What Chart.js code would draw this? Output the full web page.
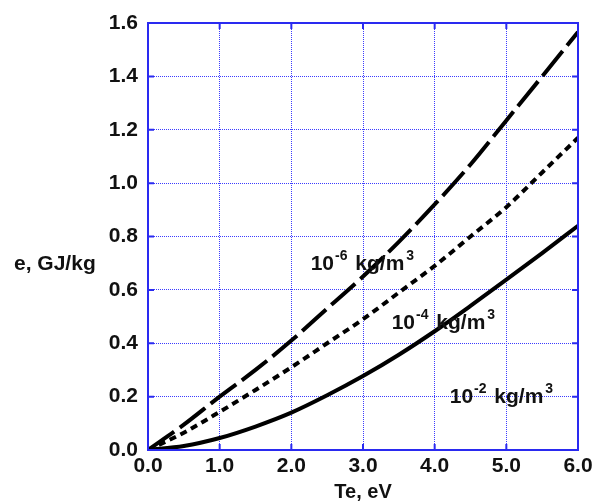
<!DOCTYPE html>
<html>
<head>
<meta charset="utf-8">
<script src="https://cdn.jsdelivr.net/npm/chart.js@4"></script>
<style>
  html, body { margin: 0; padding: 0; background: #fff; }
  #wrap { width: 606px; height: 504px; }
</style>
</head>
<body>
<div id="wrap"><canvas id="chart"></canvas></div>
<script>
// values
var te = [0, 0.5, 1.0, 1.5, 2.0, 2.5, 3.0, 3.5, 4.0, 4.5, 5.0, 5.5, 6.0];
var rho6 = [0, 0.095, 0.20, 0.30, 0.41, 0.53, 0.65, 0.78, 0.92, 1.07, 1.235, 1.40, 1.566];
var rho4 = [0, 0.065, 0.143, 0.225, 0.31, 0.40, 0.49, 0.59, 0.69, 0.80, 0.91, 1.04, 1.17];
var rho2 = [0, 0.015, 0.045, 0.088, 0.14, 0.205, 0.277, 0.357, 0.445, 0.54, 0.638, 0.738, 0.84];
var xTicks = [0, 1, 2, 3, 4, 5, 6];
var yTicks = [0, 0.2, 0.4, 0.6, 0.8, 1.0, 1.2, 1.4, 1.6];

// curve labels: [base, exponent, x, y]
var curveLabels = [
  ['10', '-6', 2.27, 0.674],
  ['10', '-4', 3.40, 0.453],
  ['10', '-2', 4.21, 0.176]
];

var blue = '#2a2af0';
var gridBlue = '#3c3cff';
var FONT = '"Liberation Sans", Arial, sans-serif';

function pts(ys) {
  return te.map(function (x, i) { return { x: x, y: ys[i] }; });
}

// frame with inward ticks, y title, curve labels
var decor = {
  id: 'decor',
  afterDatasetsDraw: function (chart) {
    var ctx = chart.ctx;
    var a = chart.chartArea;
    var xs = chart.scales.x, ys = chart.scales.y;
    ctx.save();
    ctx.strokeStyle = blue;
    ctx.lineWidth = 2;
    ctx.strokeRect(a.left, a.top, a.right - a.left, a.bottom - a.top);
    ctx.beginPath();
    yTicks.forEach(function (v) {
      var p = ys.getPixelForValue(v);
      ctx.moveTo(a.left, p); ctx.lineTo(a.left + 6, p);
      ctx.moveTo(a.right, p); ctx.lineTo(a.right - 6, p);
    });
    xTicks.forEach(function (v) {
      var p = xs.getPixelForValue(v);
      ctx.moveTo(p, a.top); ctx.lineTo(p, a.top + 6);
      ctx.moveTo(p, a.bottom); ctx.lineTo(p, a.bottom - 6);
    });
    ctx.stroke();

    ctx.fillStyle = '#111';
    ctx.textBaseline = 'middle';
    ctx.textAlign = 'left';
    ctx.font = 'bold 21px ' + FONT;
    ctx.fillText('e, GJ/kg', 14, 264);

    ctx.textBaseline = 'alphabetic';
    curveLabels.forEach(function (l) {
      var x = xs.getPixelForValue(l[2]);
      var y = ys.getPixelForValue(l[3]);
      ctx.font = 'bold 21px ' + FONT;
      ctx.fillText(l[0], x, y);
      x += ctx.measureText(l[0]).width + 1;
      ctx.font = 'bold 14px ' + FONT;
      ctx.fillText(l[1], x, y - 10);
      x += ctx.measureText(l[1]).width + 2;
      ctx.font = 'bold 21px ' + FONT;
      ctx.fillText(' kg/m', x, y);
      x += ctx.measureText(' kg/m').width + 2;
      ctx.font = 'bold 14px ' + FONT;
      ctx.fillText('3', x, y - 10);
    });
    ctx.restore();
  }
};

var common = {
  borderColor: '#000',
  backgroundColor: '#000',
  borderWidth: 4,
  pointRadius: 0,
  fill: false,
  cubicInterpolationMode: 'monotone'
};

new Chart(document.getElementById('chart'), {
  type: 'line',
  data: {
    datasets: [
      Object.assign({ label: '10-6 kg/m3', data: pts(rho6), borderDash: [32, 7] }, common),
      Object.assign({ label: '10-4 kg/m3', data: pts(rho4), borderDash: [7, 5] }, common),
      Object.assign({ label: '10-2 kg/m3', data: pts(rho2) }, common)
    ]
  },
  options: {
    responsive: true,
    maintainAspectRatio: false,
    animation: false,
    layout: { padding: { top: 23, right: 28, left: 0, bottom: 0 } },
    plugins: { legend: { display: false }, tooltip: { enabled: false } },
    scales: {
      x: {
        type: 'linear',
        min: 0, max: 6,
        afterFit: function (s) { s.height = 54; },
        afterBuildTicks: function (s) { s.ticks = xTicks.map(function (v) { return { value: v }; }); },
        ticks: {
          padding: 4,
          color: '#111',
          font: { family: FONT, size: 21, weight: 'bold' },
          callback: function (v) { return v.toFixed(1); }
        },
        grid: { color: gridBlue, lineWidth: 1, drawTicks: false },
        border: { display: false, dash: [1, 1] },
        title: {
          display: true,
          text: 'Te, eV',
          color: '#111',
          padding: { top: 0, bottom: 0 },
          font: { family: FONT, size: 20, weight: 'bold' }
        }
      },
      y: {
        min: 0, max: 1.6,
        afterFit: function (s) { s.width = 148; },
        afterBuildTicks: function (s) { s.ticks = yTicks.map(function (v) { return { value: v }; }); },
        ticks: {
          padding: 10,
          color: '#111',
          font: { family: FONT, size: 21, weight: 'bold' },
          callback: function (v) { return v.toFixed(1); }
        },
        grid: { color: gridBlue, lineWidth: 1, drawTicks: false },
        border: { display: false, dash: [1, 1] }
      }
    }
  },
  plugins: [decor]
});
</script>
</body>
</html>
